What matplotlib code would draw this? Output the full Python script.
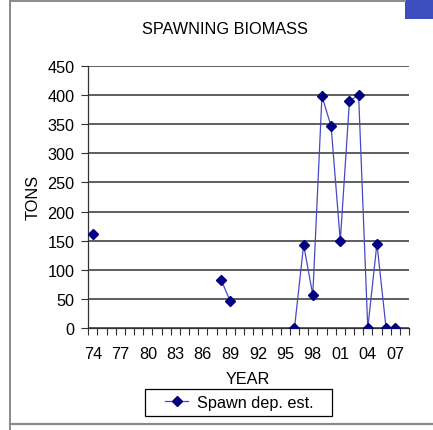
import numpy as np
import pandas as pd
import matplotlib
matplotlib.use("Agg")
import matplotlib.pyplot as plt
from matplotlib.lines import Line2D
from matplotlib.patches import Rectangle

# category axis: one slot per year, 1974 - 2008
years = list(range(1974, 2009))
tick_years = [1974, 1977, 1980, 1983, 1986, 1989, 1992, 1995, 1998, 2001, 2004, 2007]
tick_labels = ['74', '77', '80', '83', '86', '89', '92', '95', '98', '01', '04', '07']

# spawn deposition estimates (tons), only years with a survey
obs_years = [1974, 1988, 1989, 1996, 1997, 1998, 1999, 2000, 2001, 2002, 2003, 2004, 2005, 2006, 2007]
spawn = [162, 83, 46, 0, 143, 57, 398, 346, 150, 389, 400, 0, 145, 0, 0]

series = pd.Series(spawn, index=obs_years).reindex(years)
xpos = np.arange(len(years))

plt.rcParams['font.family'] = ['Liberation Sans', 'DejaVu Sans']
FS = 11.7

W, H = 433, 431
fig = plt.figure(figsize=(W / 100, H / 100), dpi=100)
ax = fig.add_axes([88.3 / W, 1 - 329.3 / H, (409 - 88.3) / W, (329.3 - 66.7) / H])

ax.plot(xpos, series.values, color='#4848c8', lw=0.9, marker='D', ms=5.2,
        mfc='#000080', mec='#000080', label='Spawn dep. est.', zorder=3)

ax.set_xlim(-0.5, len(years) - 0.5)
ax.set_ylim(0, 450)
ax.set_yticks(np.arange(0, 451, 50))
ax.yaxis.grid(True, color='#333333', lw=1.1)
ax.set_axisbelow(True)

ax.set_xticks([years.index(y) for y in tick_years])
ax.set_xticklabels(tick_labels)
ax.set_xticks(np.arange(-0.5, len(years)), minor=True)
ax.tick_params(axis='x', which='major', length=0, pad=13, labelsize=FS)
ax.tick_params(axis='x', which='minor', length=5, width=0.8, color='#333333', direction='out')
ax.tick_params(axis='y', length=5, width=0.8, color='#333333', labelsize=FS, pad=5)

for s in ['top', 'right']:
    ax.spines[s].set_visible(False)
for s in ['left', 'bottom']:
    ax.spines[s].set_color('#333333')
    ax.spines[s].set_linewidth(0.9)

ax.set_xlabel('YEAR', fontsize=FS)
ax.xaxis.label.set_va('center')
ax.xaxis.set_label_coords(0.498, (329.3 - 380) / 262.6)
ax.set_ylabel('TONS', fontsize=FS)
ax.yaxis.label.set_va('center')
ax.yaxis.set_label_coords((33 - 88.3) / 320.7, (329.3 - 197) / 262.6)

fig.text(225 / W, 1 - 29 / H, 'SPAWNING BIOMASS', ha='center', va='center', fontsize=FS)

# legend entry without frame, box drawn separately to get Excel's wide padding
fig.legend(loc='center', bbox_to_anchor=(239 / W, 1 - 403.5 / H), fontsize=FS,
           frameon=False, numpoints=1, handlelength=1.45, borderpad=0, handletextpad=0.5)
fig.add_artist(Rectangle((145 / W, 1 - 417 / H), 187 / W, 27 / H, transform=fig.transFigure,
                         fill=False, edgecolor='black', lw=0.9))

# chart area border and the blue corner box
fig.add_artist(Line2D([9.5 / W, 9.5 / W], [0, 1 - 2 / H], transform=fig.transFigure, color='#8a8a8a', lw=1.4))
fig.add_artist(Line2D([9.5 / W, 405 / W], [1 - 2 / H, 1 - 2 / H], transform=fig.transFigure, color='#8a8a8a', lw=1.4))
fig.add_artist(Line2D([9.5 / W, 1], [1 - 424.5 / H, 1 - 424.5 / H], transform=fig.transFigure, color='#8a8a8a', lw=1.6))
fig.add_artist(Rectangle((405 / W, 1 - 20 / H), 28 / W, 20 / H, transform=fig.transFigure,
                         color='#3d4ebf', lw=0))

fig.savefig('out.png', dpi=100)
